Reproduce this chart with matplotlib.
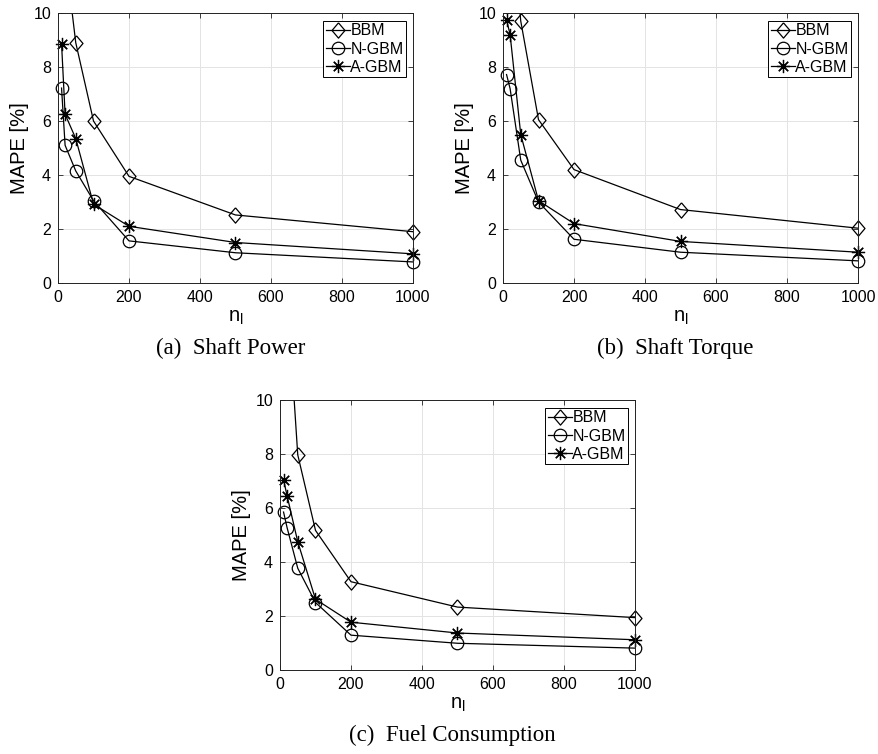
import numpy as np
import matplotlib
matplotlib.use('Agg')
import matplotlib.pyplot as plt

plt.rcParams['font.family'] = ['Liberation Sans', 'DejaVu Sans']
plt.rcParams['mathtext.fontset'] = 'custom'
plt.rcParams['mathtext.rm'] = 'Liberation Sans'
plt.rcParams['mathtext.it'] = 'Liberation Sans'

# number of labelled samples
n_l = [10, 20, 50, 100, 200, 500, 1000]

# (a) shaft power
power_bbm = [16.0, 12.2, 8.9, 6.0, 3.95, 2.52, 1.9]
power_ngbm = [7.22, 5.1, 4.15, 3.05, 1.56, 1.12, 0.78]
power_agbm = [8.87, 6.25, 5.35, 2.92, 2.1, 1.5, 1.08]

# (b) shaft torque
torque_bbm = [19.0, 14.2, 9.7, 6.05, 4.2, 2.72, 2.03]
torque_ngbm = [7.72, 7.2, 4.55, 3.0, 1.62, 1.14, 0.82]
torque_agbm = [9.75, 9.2, 5.5, 3.05, 2.2, 1.54, 1.14]

# (c) fuel consumption
fuel_bbm = [18.0, 14.0, 7.97, 5.17, 3.27, 2.33, 1.94]
fuel_ngbm = [5.85, 5.27, 3.77, 2.5, 1.29, 0.99, 0.81]
fuel_agbm = [7.05, 6.45, 4.75, 2.62, 1.77, 1.37, 1.12]

labels = ['BBM', 'N-GBM', 'A-GBM']
captions = ['(a)  Shaft Power', '(b)  Shaft Torque', '(c)  Fuel Consumption']

# matlab style diamond is a bit taller than wide
diamond = [(0, 1), (0.85, 0), (0, -1), (-0.85, 0), (0, 1)]
markers = [diamond, 'o', (8, 2, 0)]
sizes = [11, 9, 9.5]

W, H = 879, 754
fig = plt.figure(figsize=(W / 100, H / 100), dpi=100)


def panel(left, top, series, caption):
	ax = fig.add_axes([left / W, 1 - (top + 270) / H, 355 / W, 270 / H])
	for y, lab, m, ms in zip(series, labels, markers, sizes):
		# draw the part above the top without clipping the end markers
		ax.plot(n_l, y, color='k', lw=0.9, label=lab)
		vis = [(x, v) for x, v in zip(n_l, y) if v <= 10]
		ax.plot([p[0] for p in vis], [p[1] for p in vis], ls='none', marker=m, ms=ms,
				mfc='none', mec='k', mew=0.9, clip_on=False)
	ax.set_xlim(0, 1000)
	ax.set_ylim(0, 10)
	ax.set_xticks(np.arange(0, 1001, 200))
	ax.set_yticks(np.arange(0, 11, 2))
	ax.grid(True, color='#e3e3e3', lw=0.7)
	ax.set_axisbelow(True)
	ax.tick_params(direction='in', top=True, right=True, length=3.5, width=0.6,
				   labelsize=11.5, pad=5, color='#222222')
	for s in ax.spines.values():
		s.set_linewidth(0.7)
		s.set_color('#222222')
	ax.set_xlabel(r'n$_\mathrm{l}$', fontsize=14.5, labelpad=2)
	ax.set_ylabel('MAPE [%]', fontsize=14.5, labelpad=3)
	# legend entries with line + marker
	hs = [plt.Line2D([], [], color='k', lw=0.9, marker=m, ms=ms, mfc='none', mec='k', mew=0.9)
		  for m, ms in zip(markers, sizes)]
	leg = ax.legend(hs, labels, loc='upper right', bbox_to_anchor=(1 - 7 / 355, 1 - 8 / 270),
					borderaxespad=0, fontsize=11.5, handlelength=1.5, handletextpad=0.05,
					labelspacing=0.2, borderpad=0.15, fancybox=False, framealpha=1)
	leg.get_frame().set_edgecolor('k')
	leg.get_frame().set_linewidth(0.7)
	fig.text((left + 355 / 2 - 5) / W, 1 - (top + 335) / H, caption,
			 ha='center', va='center', fontsize=16.5, family='Liberation Serif')


panel(58, 13, [power_bbm, power_ngbm, power_agbm], captions[0])
panel(503, 13, [torque_bbm, torque_ngbm, torque_agbm], captions[1])
panel(280, 400, [fuel_bbm, fuel_ngbm, fuel_agbm], captions[2])

fig.savefig('out.png', dpi=100)
